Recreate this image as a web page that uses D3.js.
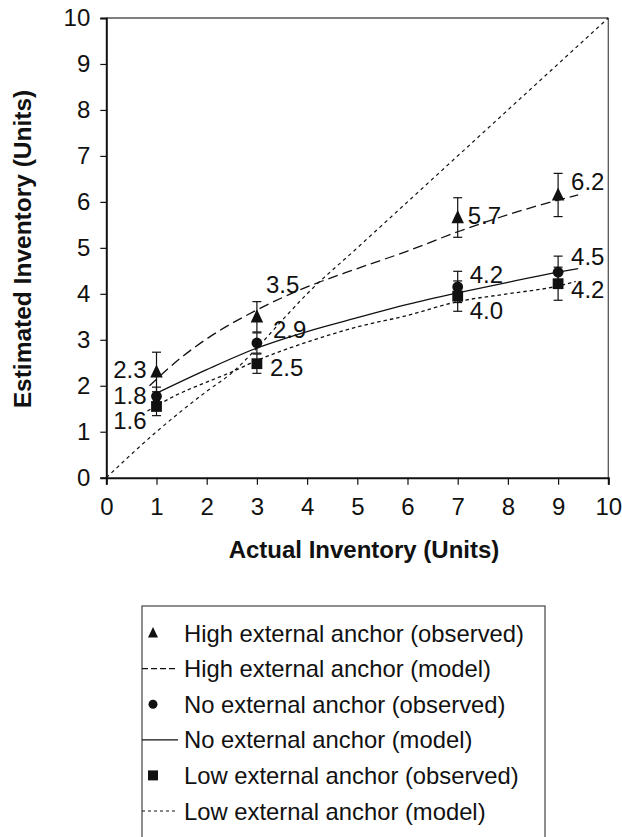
<!DOCTYPE html>
<html>
<head>
<meta charset="utf-8">
<script src="https://cdn.jsdelivr.net/npm/d3@7"></script>
<style>
  html, body { margin: 0; padding: 0; background: #fff; }
  svg { display: block; font-family: "Liberation Sans", Arial, Helvetica, sans-serif; }
</style>
</head>
<body>
<svg id="chart" width="622" height="837"></svg>
<script>
// ---------- data ----------
const xTicks = [0, 1, 2, 3, 4, 5, 6, 7, 8, 9, 10];
const yTicks = [0, 1, 2, 3, 4, 5, 6, 7, 8, 9, 10];
const obsX = [1, 3, 7, 9];

const highObs = [2.3, 3.5, 5.66, 6.15];
const highErr = [0.43, 0.33, 0.43, 0.47];
const highLabels = ["2.3", "3.5", "5.7", "6.2"];

const noneObs = [1.77, 2.93, 4.15, 4.47];
const noneErr = [0.2, 0.22, 0.34, 0.35];
const noneLabels = ["1.8", "2.9", "4.2", "4.5"];

const lowObs = [1.55, 2.48, 3.95, 4.22];
const lowErr = [0.2, 0.21, 0.33, 0.36];
const lowLabels = ["1.6", "2.5", "4.0", "4.2"];

const highModelX = [0.86, 1.5, 2, 3, 4, 5, 6, 7, 8, 9, 9.4];
const highModelY = [2.0, 2.62, 3.02, 3.65, 4.15, 4.55, 4.93, 5.35, 5.72, 6.04, 6.15];

const noneModelX = [0.93, 2, 3, 4, 5, 6, 7, 8, 9, 9.4];
const noneModelY = [1.8, 2.35, 2.82, 3.18, 3.48, 3.77, 4.02, 4.25, 4.47, 4.55];

const lowModelX = [0.82, 1.4, 2, 2.5, 3, 4, 5, 6, 7, 8, 9, 9.35];
const lowModelY = [1.45, 1.8, 2.08, 2.3, 2.55, 2.95, 3.28, 3.53, 3.83, 4.0, 4.17, 4.27];

const diagX = [0, 1, 2, 2.5, 3, 3.5, 4, 5, 6, 8, 10];
const diagY = [0, 1.0, 1.88, 2.28, 2.82, 3.42, 4.0, 5.0, 6.0, 8.0, 10.0];

const legendLabels = [
  "High external anchor (observed)",
  "High external anchor (model)",
  "No external anchor (observed)",
  "No external anchor (model)",
  "Low external anchor (observed)",
  "Low external anchor (model)"
];
const xTitle = "Actual Inventory (Units)";
const yTitle = "Estimated Inventory (Units)";

// ---------- layout ----------
const svg = d3.select("#chart");
const L = 106.3, R = 608.3, T = 18, B = 477.7;
const x = d3.scaleLinear().domain([0, 10]).range([L, R]);
const y = d3.scaleLinear().domain([0, 10]).range([B, T]);
const ink = "#111";
const fs = 24;

// frame (top/right gray)
svg.append("line").attr("x1", L).attr("x2", R).attr("y1", T).attr("y2", T)
  .attr("stroke", "#555").attr("stroke-width", 1.3);
svg.append("line").attr("x1", R).attr("x2", R).attr("y1", T).attr("y2", B)
  .attr("stroke", "#555").attr("stroke-width", 1.3);

// axes
const yAxis = d3.axisLeft(y).tickValues(yTicks).tickFormat(d3.format("d")).tickSizeOuter(0).tickSize(6).tickPadding(10);
const gy = svg.append("g").attr("transform", `translate(${L},0)`).call(yAxis);
const xAxis = d3.axisBottom(x).tickValues(xTicks).tickFormat(d3.format("d")).tickSizeOuter(0).tickSize(7).tickPadding(13);
const gx = svg.append("g").attr("transform", `translate(0,${B})`).call(xAxis);
[gx, gy].forEach(g => {
  g.select(".domain").attr("stroke", ink).attr("stroke-width", 2);
  g.selectAll(".tick line").attr("stroke", ink).attr("stroke-width", 1.2);
  g.selectAll(".tick text").attr("fill", ink).style("font-size", fs + "px")
    .style("font-family", "'Liberation Sans', Arial, sans-serif");
});

// axis titles
svg.append("text").attr("x", 364).attr("y", 558).attr("text-anchor", "middle")
  .style("font-weight", "bold").style("font-size", "24px").attr("fill", ink).text(xTitle);
svg.append("text").attr("transform", `translate(31,249) rotate(-90)`).attr("text-anchor", "middle")
  .style("font-weight", "bold").style("font-size", "24.5px").attr("fill", ink).text(yTitle);

// model lines
const line = d3.line().x(d => x(d[0])).y(d => y(d[1])).curve(d3.curveMonotoneX);
const zip = (a, b) => a.map((v, i) => [v, b[i]]);
const plot = svg.append("g");
plot.append("path").datum(zip(diagX, diagY)).attr("d", line)
  .attr("fill", "none").attr("stroke", ink).attr("stroke-width", 1.2).attr("stroke-dasharray", "3.5,3.5");
plot.append("path").datum(zip(lowModelX, lowModelY)).attr("d", line)
  .attr("fill", "none").attr("stroke", ink).attr("stroke-width", 1.3).attr("stroke-dasharray", "3.5,3");
plot.append("path").datum(zip(noneModelX, noneModelY)).attr("d", line)
  .attr("fill", "none").attr("stroke", ink).attr("stroke-width", 1.3);
plot.append("path").datum(zip(highModelX, highModelY)).attr("d", line)
  .attr("fill", "none").attr("stroke", ink).attr("stroke-width", 1.3).attr("stroke-dasharray", "10,5");

// markers
const triPath = (s) => `M0,${-s * 0.6}L${s / 2},${s * 0.45}L${-s / 2},${s * 0.45}Z`;
function drawSeries(vals, errs, shape) {
  const g = plot.append("g");
  vals.forEach((v, i) => {
    const cx = x(obsX[i]);
    const y1 = y(v + errs[i]), y2 = y(v - errs[i]);
    g.append("line").attr("x1", cx).attr("x2", cx).attr("y1", y1).attr("y2", y2)
      .attr("stroke", ink).attr("stroke-width", 1.2);
    [y1, y2].forEach(yy => g.append("line").attr("x1", cx - 4.5).attr("x2", cx + 4.5)
      .attr("y1", yy).attr("y2", yy).attr("stroke", ink).attr("stroke-width", 1.2));
    const cy = y(v);
    if (shape === "tri") {
      g.append("path").attr("d", triPath(12.5)).attr("transform", `translate(${cx},${cy})`).attr("fill", ink);
    } else if (shape === "circle") {
      g.append("circle").attr("cx", cx).attr("cy", cy).attr("r", 5.4).attr("fill", ink);
    } else {
      g.append("rect").attr("x", cx - 5.4).attr("y", cy - 5.4).attr("width", 10.8).attr("height", 10.8).attr("fill", ink);
    }
  });
}
drawSeries(lowObs, lowErr, "sq");
drawSeries(noneObs, noneErr, "circle");
drawSeries(highObs, highErr, "tri");

// value labels: placement offsets [dx, dy, anchor]
const highPlace = [[-10, 6, "end"], [9, -24, "start"], [10, 6, "start"], [13, -5, "start"]];
const nonePlace = [[-10, 8, "end"], [16, -5, "start"], [12, -4, "start"], [13, -7, "start"]];
const lowPlace = [[-10, 23, "end"], [13, 12, "start"], [12, 23, "start"], [13, 14, "start"]];
function drawLabels(vals, labels, place) {
  vals.forEach((v, i) => {
    plot.append("text").attr("x", x(obsX[i]) + place[i][0]).attr("y", y(v) + place[i][1])
      .attr("text-anchor", place[i][2]).style("font-size", fs + "px").attr("fill", ink).text(labels[i]);
  });
}
drawLabels(highObs, highLabels, highPlace);
drawLabels(noneObs, noneLabels, nonePlace);
drawLabels(lowObs, lowLabels, lowPlace);

// legend
const lg = svg.append("g");
lg.append("rect").attr("x", 142).attr("y", 606).attr("width", 403).attr("height", 260)
  .attr("fill", "#fff").attr("stroke", "#444").attr("stroke-width", 1.2);
const rowY = d3.scalePoint().domain(d3.range(legendLabels.length)).range([633, 811]);
const legendKinds = ["tri", "dash", "circle", "solid", "sq", "dot"];
legendLabels.forEach((lab, i) => {
  const cy = rowY(i), sx = 153;
  const k = legendKinds[i];
  if (k === "tri") lg.append("path").attr("d", triPath(10)).attr("transform", `translate(${sx},${cy})`).attr("fill", ink);
  else if (k === "circle") lg.append("circle").attr("cx", sx).attr("cy", cy).attr("r", 4.5).attr("fill", ink);
  else if (k === "sq") lg.append("rect").attr("x", sx - 5).attr("y", cy - 5).attr("width", 10).attr("height", 10).attr("fill", ink);
  else {
    const ln = lg.append("line").attr("x1", 142).attr("x2", 178).attr("y1", cy).attr("y2", cy)
      .attr("stroke", ink).attr("stroke-width", 1.2);
    if (k === "dash") ln.attr("stroke-dasharray", "6,3");
    if (k === "dot") ln.attr("stroke-dasharray", "3,3");
  }
  lg.append("text").attr("x", 184).attr("y", cy + 8.5).style("font-size", "23.8px").attr("fill", ink).text(lab);
});
</script>
</body>
</html>
